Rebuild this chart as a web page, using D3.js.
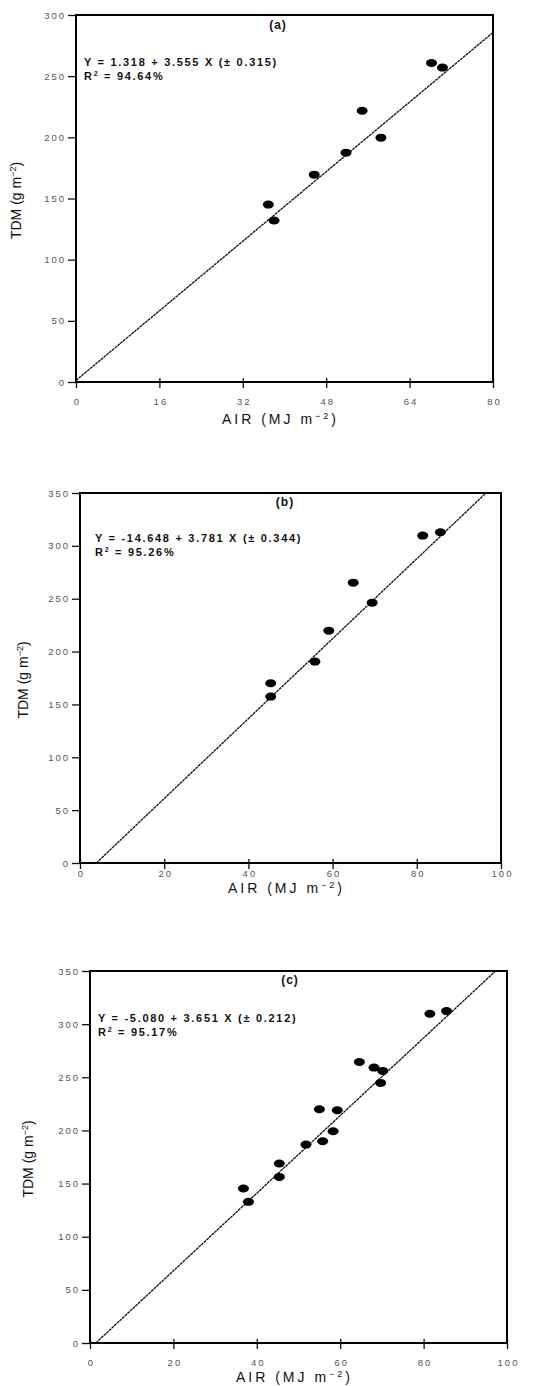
<!DOCTYPE html>
<html>
<head>
<meta charset="utf-8">
<script src="https://cdn.jsdelivr.net/npm/d3@7"></script>
<style>
  body { margin: 0; background: #fff; }
  svg { display: block; font-family: 'Liberation Sans', Arial, sans-serif; }
  .tick text { fill: #555; font-size: 9.5px; letter-spacing: 2px; }
  .tick line { stroke: #111; stroke-width: 1.3; }
  .eq { font-size: 11px; font-weight: bold; fill: #111; letter-spacing: 1.7px; }
  .lab { font-size: 12px; font-weight: bold; fill: #111; letter-spacing: 1px; }
  .ttl { font-size: 14px; fill: #111; }
</style>
</head>
<body>
<script>
'use strict';
// 패널별 데이터 (a) (b) (c)
const airA = [36.9, 38.0, 45.7, 51.8, 54.9, 58.5, 68.2, 70.3];
const tdmA = [145, 132, 169.5, 187.5, 221.7, 199.7, 260.8, 257];

const airB = [45.3, 45.3, 55.8, 59.1, 64.9, 69.4, 81.4, 85.6];
const tdmB = [170, 157.4, 190.5, 219.8, 265.2, 246.3, 309.7, 312.9];

const airC = [36.8, 38.0, 45.4, 45.4, 51.8, 55.0, 55.8, 58.3, 59.3, 64.6, 68.1, 70.2, 69.7, 81.5, 85.5];
const tdmC = [145.4, 132.8, 168.9, 156.3, 186.7, 219.9, 189.8, 199.2, 219, 264.4, 259.1, 256, 244.7, 309.8, 312.3];

// 회귀식 계수
const intercepts = [1.318, -14.648, -5.080];
const slopes = [3.555, 3.781, 3.651];

// 눈금
const xTicksA = [0, 16, 32, 48, 64, 80];
const yTicksA = [0, 50, 100, 150, 200, 250, 300];
const xTicksBC = [0, 20, 40, 60, 80, 100];
const yTicksBC = [0, 50, 100, 150, 200, 250, 300, 350];

// 텍스트
const panelLabels = ['(a)', '(b)', '(c)'];
const eqTexts = ['Y = 1.318 + 3.555 X (\u00b1 0.315)', 'Y = -14.648 + 3.781 X (\u00b1 0.344)', 'Y = -5.080 + 3.651 X (\u00b1 0.212)'];
const r2Texts = ['94.64%', '95.26%', '95.17%'];

const svg = d3.select(document.body).append('svg')
  .attr('width', 545).attr('height', 1386);

// 위치 설정
const layouts = [
  {l: 76, r: 493, t: 15, b: 382, eqx: 8, eqy: 51, labx: 202, laby: 14, ytx: 21, xty: 42, xpad: 10},
  {l: 80, r: 501, t: 493, b: 863, eqx: 15, eqy: 49, labx: 205, laby: 13, ytx: 28, xty: 30, xpad: 1},
  {l: 90, r: 507, t: 971, b: 1343, eqx: 8, eqy: 51, labx: 200, laby: 13, ytx: 33, xty: 39, xpad: 10}
];

drawPanel(0, airA, tdmA, xTicksA, yTicksA);
drawPanel(1, airB, tdmB, xTicksBC, yTicksBC);
drawPanel(2, airC, tdmC, xTicksBC, yTicksBC);

function drawPanel(i, xs, ys, xTicks, yTicks){
  const L = layouts[i];
  const x = d3.scaleLinear()
    .domain([xTicks[0], xTicks[xTicks.length - 1]])
    .range([L.l, L.r]);
  const y = d3.scaleLinear()
    .domain([yTicks[0], yTicks[yTicks.length - 1]])
    .range([L.b, L.t]);
  const g = svg.append('g');

  // y축
  g.append('g')
    .attr('transform', `translate(${L.l},0)`)
    .call(d3.axisLeft(y).tickValues(yTicks).tickSize(8).tickPadding(2).tickFormat(d3.format('d')))
    .call(a => a.select('.domain').remove());
  // x축
  g.append('g')
    .attr('transform', `translate(0,${L.b})`)
    .call(d3.axisBottom(x).tickValues(xTicks).tickSize(6).tickPadding(L.xpad).tickFormat(d3.format('d')))
    .call(a => a.select('.domain').remove())
    .call(a => a.selectAll('.tick line').attr('y1', -4))
    .call(a => a.selectAll('.tick text').attr('dx', '1px'));

  // 회귀선 (프레임 안으로 자름)
  const fx = v => intercepts[i] + slopes[i] * v;
  const xd = x.domain(), yd = y.domain();
  const x0 = Math.max(xd[0], (yd[0] - intercepts[i]) / slopes[i]);
  const x1 = Math.min(xd[1], (yd[1] - intercepts[i]) / slopes[i]);
  g.append('path')
    .attr('d', d3.line().x(d => x(d)).y(d => y(fx(d)))([x0, x1]))
    .attr('stroke', '#111').attr('stroke-width', 1.3)
    .attr('stroke-dasharray', '3 0.6').attr('fill', 'none');

  // 점
  g.selectAll('ellipse.pt')
    .data(xs)
    .enter().append('ellipse')
    .attr('class', 'pt')
    .attr('cx', d => x(d))
    .attr('cy', (d, j) => y(ys[j]))
    .attr('rx', 5.5).attr('ry', 4)
    .attr('fill', '#000');

  // 프레임
  g.append('rect')
    .attr('x', L.l).attr('y', L.t)
    .attr('width', L.r - L.l).attr('height', L.b - L.t)
    .attr('fill', 'none').attr('stroke', '#000').attr('stroke-width', 2);

  // 글자
  g.append('text').attr('class', 'lab')
    .attr('x', L.l + L.labx).attr('y', L.t + L.laby)
    .attr('text-anchor', 'middle').text(panelLabels[i]);
  g.append('text').attr('class', 'eq')
    .attr('x', L.l + L.eqx).attr('y', L.t + L.eqy).text(eqTexts[i]);
  const r2 = g.append('text').attr('class', 'eq')
    .attr('x', L.l + L.eqx).attr('y', L.t + L.eqy + 14);
  r2.append('tspan').text('R');
  r2.append('tspan').attr('dy', -4).attr('font-size', 7).text('2');
  r2.append('tspan').attr('dy', 4).text(' = ' + r2Texts[i]);

  const xt = g.append('text').attr('class', 'ttl')
    .attr('x', (L.l + L.r) / 2 - 4).attr('y', L.b + L.xty)
    .attr('text-anchor', 'middle')
    .style('letter-spacing', '3px');
  xt.append('tspan').text('AIR (MJ m');
  xt.append('tspan').attr('dy', -5).attr('font-size', 9).text('\u22122');
  xt.append('tspan').attr('dy', 5).text(')');

  const cy = (L.t + L.b) / 2 + 2;
  const yt = g.append('text').attr('class', 'ttl')
    .attr('transform', `translate(${L.ytx},${cy}) rotate(-90)`)
    .attr('text-anchor', 'middle');
  yt.append('tspan').text('TDM (g m');
  yt.append('tspan').attr('dy', -5).attr('font-size', 9).text('\u22122');
  yt.append('tspan').attr('dy', 5).text(')');
}
</script>
</body>
</html>
